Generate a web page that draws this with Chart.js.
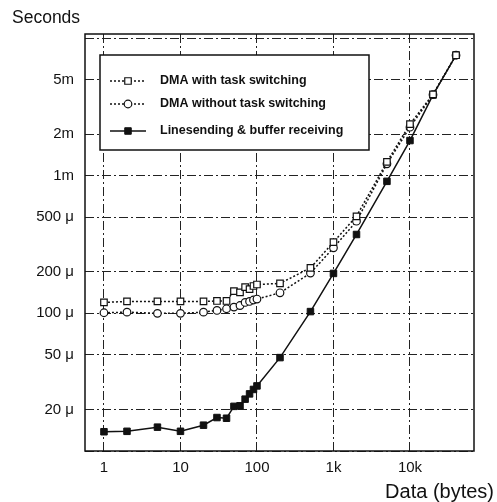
<!DOCTYPE html>
<html>
<head>
<meta charset="utf-8">
<script src="https://cdn.jsdelivr.net/npm/chart.js@4/dist/chart.umd.min.js"></script>
<style>
  body { margin: 0; background: #fff; }
  canvas { display: block; }
</style>
</head>
<body>
<canvas id="myChart" width="497" height="502"></canvas>
<script>
// data size in bytes, times in microseconds
const dataSizes   = [1, 2, 5, 10, 20, 30, 40, 50, 60, 70, 80, 90, 100, 200, 500, 1000, 2000, 5000, 10000, 20000, 40000];
const dmaSwitch   = [120, 122, 122, 122, 122, 123, 123, 145, 142, 155, 150, 158, 162, 165, 214, 329, 507, 1260, 2370, 3900, 7500];
const dmaNoSwitch = [101, 102, 100, 100, 102, 105, 108, 111, 114, 120, 122, 125, 127, 141, 196, 299, 467, 1220, 2250, 3880, 7500];
const lineSend    = [13.8, 13.9, 14.9, 13.9, 15.4, 17.5, 17.3, 21.1, 21.3, 23.8, 26, 28, 29.7, 47.7, 103, 195, 374, 910, 1800, 3860, 7530];

const seriesNames = ["DMA with task switching", "DMA without task switching", "Linesending & buffer receiving"];

const xTicks      = [1, 10, 100, 1000, 10000];
const xTickLabels = ["1", "10", "100", "1k", "10k"];
const yTicks      = [10, 20, 50, 100, 200, 500, 1000, 2000, 5000, 10000];
const yTickLabels = ["", "20 \u03bc", "50 \u03bc", "100 \u03bc", "200 \u03bc", "500 \u03bc", "1m", "2m", "5m", ""];

const FONT = '"Liberation Sans", Arial, sans-serif';

function toPoints(values)
{
    return dataSizes.map(function (x, i) { return { x: x, y: values[i] }; });
}

const gridStyle = {
    color: '#222',
    lineWidth: 1,
    drawTicks: false
};

// frame, axis titles and the boxed legend
const extras = {
    id: 'extras',
    afterDraw: function (chart) {
        const c = chart.ctx;
        const a = chart.chartArea;
        c.save();
        c.setLineDash([]);
        c.strokeStyle = '#111';
        c.lineWidth = 1.5;
        c.strokeRect(a.left, a.top, a.right - a.left, a.bottom - a.top);

        c.fillStyle = '#111';
        c.font = '17.5px ' + FONT;
        c.textBaseline = 'middle';
        c.textAlign = 'left';
        c.fillText('Seconds', 12, 18);
        c.font = '20px ' + FONT;
        c.textAlign = 'right';
        c.fillText('Data (bytes)', 494, 492);

        // legend box
        c.fillStyle = '#fff';
        c.fillRect(100, 55, 269, 95);
        c.strokeRect(100, 55, 269, 95);

        const rows = [81, 104, 131];
        chart.data.datasets.forEach(function (ds, i) {
            const y = rows[i];
            c.strokeStyle = '#111';
            c.lineWidth = ds.borderWidth;
            c.setLineDash(ds.borderDash || []);
            c.beginPath();
            c.moveTo(110, y);
            c.lineTo(146, y);
            c.stroke();
            c.setLineDash([]);
            c.lineWidth = ds.pointBorderWidth;
            c.fillStyle = ds.pointBackgroundColor;
            c.beginPath();
            if (ds.pointStyle === 'circle') {
                c.arc(128, y, ds.pointRadius, 0, Math.PI * 2);
            } else {
                const s = ds.pointRadius * Math.SQRT1_2;
                c.rect(128 - s, y - s, 2 * s, 2 * s);
            }
            c.fill();
            c.stroke();
            c.fillStyle = '#111';
            c.font = 'bold 12.5px ' + FONT;
            c.textAlign = 'left';
            c.fillText(ds.label, 160, y);
        });
        c.restore();
    }
};

const ctx = document.getElementById('myChart').getContext('2d');
const myChart = new Chart(ctx, {
    type: 'line',
    data: {
        datasets: [{
            label: seriesNames[0],
            data: toPoints(dmaSwitch),
            borderColor: '#111',
            borderWidth: 1.5,
            borderDash: [2, 2],
            pointStyle: 'rect',
            pointRadius: 4.6,
            pointBorderWidth: 1.2,
            pointBackgroundColor: '#fff',
            pointBorderColor: '#111'
        }, {
            label: seriesNames[1],
            data: toPoints(dmaNoSwitch),
            borderColor: '#111',
            borderWidth: 1.5,
            borderDash: [2, 2],
            pointStyle: 'circle',
            pointRadius: 3.8,
            pointBorderWidth: 1.2,
            pointBackgroundColor: '#fff',
            pointBorderColor: '#111'
        }, {
            label: seriesNames[2],
            data: toPoints(lineSend),
            borderColor: '#111',
            borderWidth: 1.5,
            pointStyle: 'rect',
            pointRadius: 4.6,
            pointBorderWidth: 1,
            pointBackgroundColor: '#111',
            pointBorderColor: '#111'
        }]
    },
    options: {
        responsive: false,
        animation: false,
        layout: { padding: { top: 34, right: 23, left: 0, bottom: 0 } },
        scales: {
            x: {
                type: 'logarithmic',
                min: 0.565,
                max: 68700,
                grid: Object.assign({ borderDash: [9, 3, 2, 3] }, gridStyle),
                border: { display: false, dash: [9, 3, 2, 3] },
                afterBuildTicks: function (scale) {
                    scale.ticks = xTicks.map(function (v) { return { value: v }; });
                },
                afterFit: function (scale) { scale.height = 51; },
                ticks: {
                    autoSkip: false,
                    maxRotation: 0,
                    padding: 8,
                    color: '#111',
                    font: { family: FONT, size: 15 },
                    callback: function (value) {
                        const i = xTicks.indexOf(value);
                        return i >= 0 ? xTickLabels[i] : '';
                    }
                }
            },
            y: {
                type: 'logarithmic',
                min: 10,
                max: 10700,
                grid: gridStyle,
                border: { display: false, dash: [9, 3, 2, 3] },
                afterBuildTicks: function (scale) {
                    scale.ticks = yTicks.map(function (v) { return { value: v }; });
                },
                afterFit: function (scale) { scale.width = 85; },
                ticks: {
                    autoSkip: false,
                    padding: 11,
                    color: '#111',
                    font: { family: FONT, size: 15 },
                    callback: function (value) {
                        const i = yTicks.indexOf(value);
                        return i >= 0 ? yTickLabels[i] : '';
                    }
                }
            }
        },
        plugins: {
            legend: { display: false },
            title: { display: false },
            tooltip: { enabled: false }
        }
    },
    plugins: [extras]
});
</script>
</body>
</html>
